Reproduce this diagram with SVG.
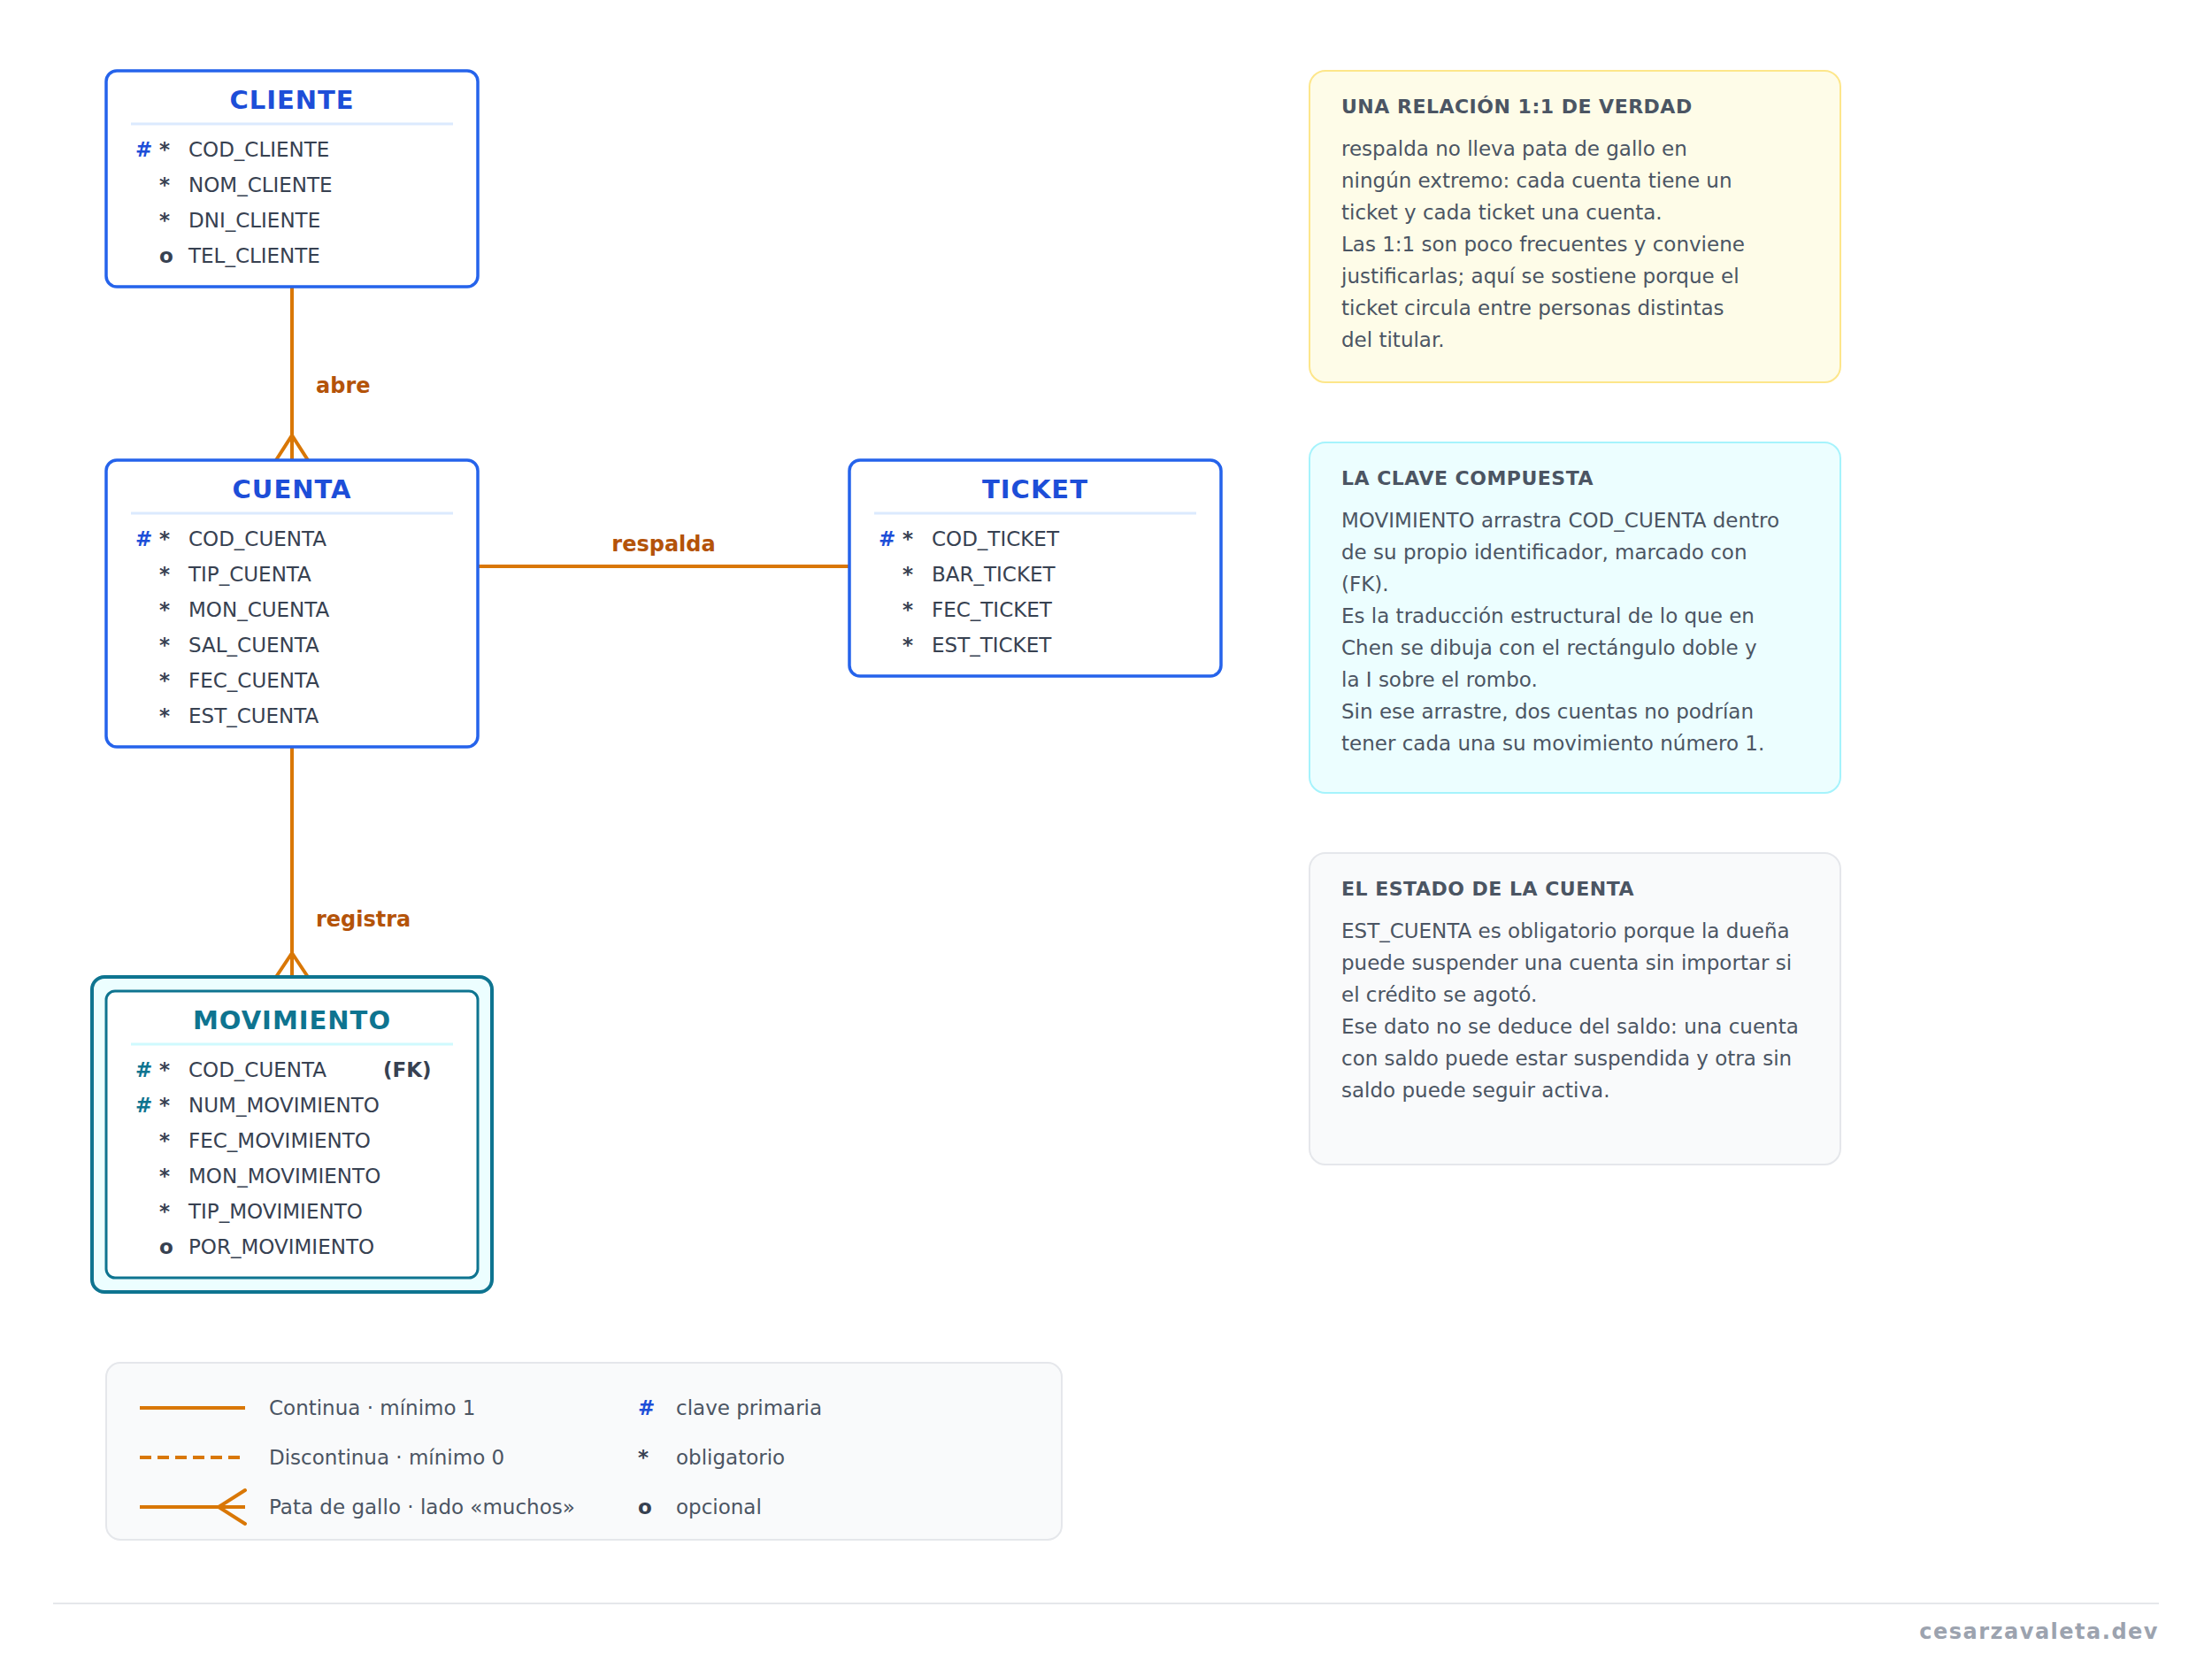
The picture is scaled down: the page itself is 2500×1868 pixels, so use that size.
<svg xmlns="http://www.w3.org/2000/svg" width="2500" height="1868" viewBox="0 0 2500 1868">
<style>
.ent{fill:#ffffff;stroke:#2563eb;stroke-width:3.5}
.title{font-family:"DejaVu Sans",Verdana,sans-serif;font-weight:bold;font-size:29px;letter-spacing:1px;text-anchor:middle}
.tb{fill:#1d4ed8}
.tt{fill:#0e7490}
.div{stroke-width:3}
.attr{font-family:"DejaVu Sans",Verdana,sans-serif;font-size:23px;fill:#374151}
.mk{font-family:"DejaVu Sans",Verdana,sans-serif;font-size:23px;font-weight:bold}
.pkb{fill:#1d4ed8}
.pkt{fill:#0e7490}
.dk{fill:#374151}
.conn{stroke:#d97706;stroke-width:4;fill:none;stroke-linecap:round}
.rel{font-family:"DejaVu Sans",Verdana,sans-serif;font-weight:bold;font-size:24px;fill:#b45309}
.ntitle{font-family:"DejaVu Sans",Verdana,sans-serif;font-weight:bold;font-size:22px;fill:#4b5563;letter-spacing:0.5px}
.nbody{font-family:"DejaVu Sans",Verdana,sans-serif;font-size:23px;fill:#4b5563}
.leg{font-family:"DejaVu Sans",Verdana,sans-serif;font-size:23px;fill:#4b5563}
</style>
<rect width="2500" height="1868" fill="#ffffff"/>

<g id="connectors">
  <g id="abre">
    <line class="conn" x1="330" y1="324" x2="330" y2="520"/>
    <polyline class="conn" points="312,520 330,492 348,520"/>
    <text class="rel" x="357" y="444">abre</text>
  </g>
  <g id="respalda">
    <line class="conn" x1="540" y1="640" x2="960" y2="640" style="stroke-linecap:butt"/>
    <text class="rel" x="750" y="623" text-anchor="middle">respalda</text>
  </g>
  <g id="registra">
    <line class="conn" x1="330" y1="844" x2="330" y2="1104"/>
    <polyline class="conn" points="312,1104 330,1077 348,1104"/>
    <text class="rel" x="357" y="1047">registra</text>
  </g>
</g>

<g id="cliente">
  <rect class="ent" x="120" y="80" width="420" height="244" rx="12"/>
  <text class="title tb" x="330" y="123">CLIENTE</text>
  <line class="div" x1="148" y1="140" x2="512" y2="140" stroke="#dbeafe"/>
  <text class="mk pkb" x="153" y="177">#</text><text class="mk dk" x="180" y="177">*</text><text class="attr" x="213" y="177">COD_CLIENTE</text>
  <text class="mk dk" x="180" y="217">*</text><text class="attr" x="213" y="217">NOM_CLIENTE</text>
  <text class="mk dk" x="180" y="257">*</text><text class="attr" x="213" y="257">DNI_CLIENTE</text>
  <text class="mk dk" x="180" y="297">o</text><text class="attr" x="213" y="297">TEL_CLIENTE</text>
</g>

<g id="cuenta">
  <rect class="ent" x="120" y="520" width="420" height="324" rx="12"/>
  <text class="title tb" x="330" y="563">CUENTA</text>
  <line class="div" x1="148" y1="580" x2="512" y2="580" stroke="#dbeafe"/>
  <text class="mk pkb" x="153" y="617">#</text><text class="mk dk" x="180" y="617">*</text><text class="attr" x="213" y="617">COD_CUENTA</text>
  <text class="mk dk" x="180" y="657">*</text><text class="attr" x="213" y="657">TIP_CUENTA</text>
  <text class="mk dk" x="180" y="697">*</text><text class="attr" x="213" y="697">MON_CUENTA</text>
  <text class="mk dk" x="180" y="737">*</text><text class="attr" x="213" y="737">SAL_CUENTA</text>
  <text class="mk dk" x="180" y="777">*</text><text class="attr" x="213" y="777">FEC_CUENTA</text>
  <text class="mk dk" x="180" y="817">*</text><text class="attr" x="213" y="817">EST_CUENTA</text>
</g>

<g id="ticket">
  <rect class="ent" x="960" y="520" width="420" height="244" rx="12"/>
  <text class="title tb" x="1170" y="563">TICKET</text>
  <line class="div" x1="988" y1="580" x2="1352" y2="580" stroke="#dbeafe"/>
  <text class="mk pkb" x="993" y="617">#</text><text class="mk dk" x="1020" y="617">*</text><text class="attr" x="1053" y="617">COD_TICKET</text>
  <text class="mk dk" x="1020" y="657">*</text><text class="attr" x="1053" y="657">BAR_TICKET</text>
  <text class="mk dk" x="1020" y="697">*</text><text class="attr" x="1053" y="697">FEC_TICKET</text>
  <text class="mk dk" x="1020" y="737">*</text><text class="attr" x="1053" y="737">EST_TICKET</text>
</g>

<g id="movimiento">
  <rect x="104" y="1104" width="452" height="356" rx="14" fill="#ecfeff" stroke="#0e7490" stroke-width="4"/>
  <rect x="120" y="1120" width="420" height="324" rx="10" fill="#ffffff" stroke="#0e7490" stroke-width="3"/>
  <text class="title tt" x="330" y="1163">MOVIMIENTO</text>
  <line class="div" x1="148" y1="1180" x2="512" y2="1180" stroke="#cffafe"/>
  <text class="mk pkt" x="153" y="1217">#</text><text class="mk dk" x="180" y="1217">*</text><text class="attr" x="213" y="1217">COD_CUENTA</text><text class="mk dk" x="433" y="1217">(FK)</text>
  <text class="mk pkt" x="153" y="1257">#</text><text class="mk dk" x="180" y="1257">*</text><text class="attr" x="213" y="1257">NUM_MOVIMIENTO</text>
  <text class="mk dk" x="180" y="1297">*</text><text class="attr" x="213" y="1297">FEC_MOVIMIENTO</text>
  <text class="mk dk" x="180" y="1337">*</text><text class="attr" x="213" y="1337">MON_MOVIMIENTO</text>
  <text class="mk dk" x="180" y="1377">*</text><text class="attr" x="213" y="1377">TIP_MOVIMIENTO</text>
  <text class="mk dk" x="180" y="1417">o</text><text class="attr" x="213" y="1417">POR_MOVIMIENTO</text>
</g>

<g id="nota-1-1">
  <rect x="1480" y="80" width="600" height="352" rx="18" fill="#fefce8" stroke="#fde68a" stroke-width="2"/>
  <text class="ntitle" x="1516" y="128">UNA RELACIÓN 1:1 DE VERDAD</text>
  <text class="nbody" x="1516" y="176">respalda no lleva pata de gallo en</text>
  <text class="nbody" x="1516" y="212">ningún extremo: cada cuenta tiene un</text>
  <text class="nbody" x="1516" y="248">ticket y cada ticket una cuenta.</text>
  <text class="nbody" x="1516" y="284">Las 1:1 son poco frecuentes y conviene</text>
  <text class="nbody" x="1516" y="320">justificarlas; aquí se sostiene porque el</text>
  <text class="nbody" x="1516" y="356">ticket circula entre personas distintas</text>
  <text class="nbody" x="1516" y="392">del titular.</text>
</g>

<g id="nota-clave">
  <rect x="1480" y="500" width="600" height="396" rx="18" fill="#ecfeff" stroke="#a5f3fc" stroke-width="2"/>
  <text class="ntitle" x="1516" y="548">LA CLAVE COMPUESTA</text>
  <text class="nbody" x="1516" y="596">MOVIMIENTO arrastra COD_CUENTA dentro</text>
  <text class="nbody" x="1516" y="632">de su propio identificador, marcado con</text>
  <text class="nbody" x="1516" y="668">(FK).</text>
  <text class="nbody" x="1516" y="704">Es la traducción estructural de lo que en</text>
  <text class="nbody" x="1516" y="740">Chen se dibuja con el rectángulo doble y</text>
  <text class="nbody" x="1516" y="776">la I sobre el rombo.</text>
  <text class="nbody" x="1516" y="812">Sin ese arrastre, dos cuentas no podrían</text>
  <text class="nbody" x="1516" y="848">tener cada una su movimiento número 1.</text>
</g>

<g id="nota-estado">
  <rect x="1480" y="964" width="600" height="352" rx="18" fill="#f9fafb" stroke="#e5e7eb" stroke-width="2"/>
  <text class="ntitle" x="1516" y="1012">EL ESTADO DE LA CUENTA</text>
  <text class="nbody" x="1516" y="1060">EST_CUENTA es obligatorio porque la dueña</text>
  <text class="nbody" x="1516" y="1096">puede suspender una cuenta sin importar si</text>
  <text class="nbody" x="1516" y="1132">el crédito se agotó.</text>
  <text class="nbody" x="1516" y="1168">Ese dato no se deduce del saldo: una cuenta</text>
  <text class="nbody" x="1516" y="1204">con saldo puede estar suspendida y otra sin</text>
  <text class="nbody" x="1516" y="1240">saldo puede seguir activa.</text>
</g>

<g id="leyenda">
  <rect x="120" y="1540" width="1080" height="200" rx="16" fill="#f9fafb" stroke="#e5e7eb" stroke-width="2"/>
  <line x1="158" y1="1591" x2="277" y2="1591" stroke="#d97706" stroke-width="4"/>
  <text class="leg" x="304" y="1599">Continua · mínimo 1</text>
  <line x1="158" y1="1647" x2="277" y2="1647" stroke="#d97706" stroke-width="4" stroke-dasharray="13 7"/>
  <text class="leg" x="304" y="1655">Discontinua · mínimo 0</text>
  <line x1="158" y1="1703" x2="277" y2="1703" stroke="#d97706" stroke-width="4"/>
  <polyline points="277,1684 247,1703 277,1722" fill="none" stroke="#d97706" stroke-width="4" stroke-linecap="round"/>
  <text class="leg" x="304" y="1711">Pata de gallo · lado «muchos»</text>
  <text class="mk pkb" x="721" y="1599">#</text>
  <text class="leg" x="764" y="1599">clave primaria</text>
  <text class="mk dk" x="721" y="1655">*</text>
  <text class="leg" x="764" y="1655">obligatorio</text>
  <text class="mk dk" x="721" y="1711">o</text>
  <text class="leg" x="764" y="1711">opcional</text>
</g>

<g id="footer">
  <line x1="60" y1="1812" x2="2440" y2="1812" stroke="#e5e7eb" stroke-width="2"/>
  <text x="2440" y="1852" text-anchor="end" font-family="DejaVu Sans, Verdana, sans-serif" font-weight="bold" font-size="24" letter-spacing="1.5" fill="#9ca3af">cesarzavaleta.dev</text>
</g>
</svg>
